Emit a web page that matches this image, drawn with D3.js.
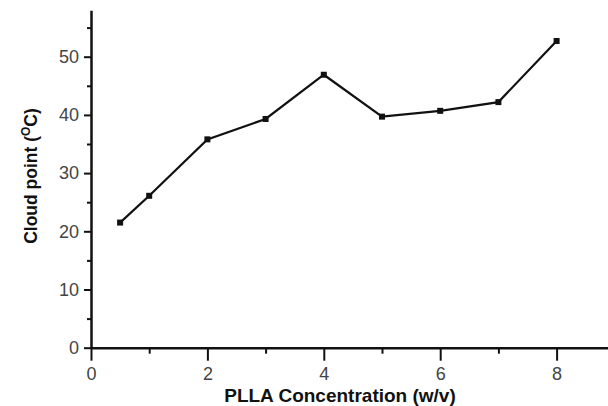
<!DOCTYPE html>
<html>
<head>
<meta charset="utf-8">
<script src="https://cdn.jsdelivr.net/npm/d3@7"></script>
<style>
  body { margin: 0; background: #fff; }
  svg { display: block; font-family: "Liberation Sans", Arial, sans-serif; }
  .axis path, .axis line { stroke: #111; }
  .axis text { fill: #444; }
</style>
</head>
<body>
<svg id="chart"></svg>
<script>
'use strict';

var width = 608, height = 406;

// PLLA concentration (w/v) vs cloud point (oC)
var concentration = [0.5, 1, 2, 3, 4, 5, 6, 7, 8];
var cloudPoint = [21.5, 26.1, 35.8, 39.3, 46.9, 39.7, 40.7, 42.2, 52.7];

var xMajorTicks = [0, 2, 4, 6, 8];
var xMinorTicks = [1, 3, 5, 7];
var yMajorTicks = [0, 10, 20, 30, 40, 50];
var yMinorTicks = [5, 15, 25, 35, 45, 55];

var svg = d3.select("#chart")
            .attr("width", width)
            .attr("height", height);

var x = d3.scaleLinear()
          .domain([0, 9])
          .range([91, 91 + 9 * 58.2]);

var y = d3.scaleLinear()
          .domain([0, 58])
          .range([347.7, 347.7 - 58 * 5.82]);

// minor ticks first, no labels
svg.append("g")
   .attr("class", "axis")
   .attr("transform", "translate(0," + y(0) + ")")
   .call(d3.axisBottom(x).tickValues(xMinorTicks).tickSize(6).tickFormat(""))
   .call(g => g.select(".domain").remove())
   .selectAll("line").attr("stroke-width", 2);

svg.append("g")
   .attr("class", "axis")
   .attr("transform", "translate(" + x(0) + ",0)")
   .call(d3.axisLeft(y).tickValues(yMinorTicks).tickSize(4).tickFormat(""))
   .call(g => g.select(".domain").remove())
   .selectAll("line").attr("stroke-width", 2);

// major ticks + labels
var xAxis = svg.append("g")
   .attr("class", "axis")
   .attr("transform", "translate(0," + y(0) + ")")
   .call(d3.axisBottom(x).tickValues(xMajorTicks).tickSizeInner(13).tickSizeOuter(0).tickPadding(7).tickFormat(d3.format("d")));

xAxis.select(".domain").attr("stroke-width", 2.5);
xAxis.selectAll("line").attr("stroke-width", 2);
xAxis.selectAll("text").style("font-size", "18px");

var yAxis = svg.append("g")
   .attr("class", "axis")
   .attr("transform", "translate(" + x(0) + ",0)")
   .call(d3.axisLeft(y).tickValues(yMajorTicks).tickSizeInner(7).tickSizeOuter(0).tickPadding(5).tickFormat(d3.format("d")));

yAxis.select(".domain").attr("stroke-width", 2.5);
yAxis.selectAll("line").attr("stroke-width", 2);
yAxis.selectAll("text").style("font-size", "18px");

// data line
var line = d3.line()
             .x((d, i) => x(concentration[i]))
             .y(d => y(d));

svg.append("path")
   .datum(cloudPoint)
   .attr("fill", "none")
   .attr("stroke", "#111")
   .attr("stroke-width", 2.2)
   .attr("d", line);

svg.selectAll(".marker")
   .data(cloudPoint)
   .enter().append("rect")
   .attr("class", "marker")
   .attr("x", (d, i) => x(concentration[i]) - 3)
   .attr("y", d => y(d) - 3)
   .attr("width", 6)
   .attr("height", 6)
   .attr("fill", "#111");

// axis titles
svg.append("text")
   .attr("x", 340)
   .attr("y", 402)
   .attr("text-anchor", "middle")
   .style("font-size", "19px")
   .style("font-weight", "bold")
   .attr("fill", "#111")
   .text("PLLA Concentration (w/v)");

var yTitle = svg.append("text")
   .attr("transform", "translate(37,176) rotate(-90)")
   .attr("text-anchor", "middle")
   .style("font-size", "17.5px")
   .style("font-weight", "bold")
   .attr("fill", "#111");

yTitle.append("tspan").text("Cloud point (");
yTitle.append("tspan").attr("dy", -7).style("font-size", "12px").text("O");
yTitle.append("tspan").attr("dy", 7).text("C)");
</script>
</body>
</html>
